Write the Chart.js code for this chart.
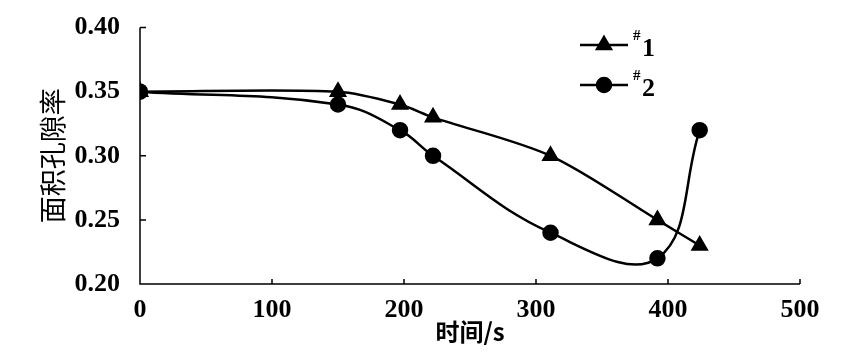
<!DOCTYPE html>
<html>
<head>
<meta charset="utf-8">
<script src="https://cdn.jsdelivr.net/npm/chart.js@4/dist/chart.umd.min.js"></script>
<style>
  body { margin: 0; background: #fff; }
  #wrap { width: 852px; height: 352px; }
</style>
</head>
<body>
<div id="wrap"><canvas id="poreChart" width="852" height="352"></canvas></div>
<script>
// data
const times = [0, 150, 197, 222, 311, 392, 424];
const sample1 = [0.35, 0.35, 0.34, 0.33, 0.30, 0.25, 0.23];
const sample2 = [0.35, 0.34, 0.32, 0.30, 0.24, 0.22, 0.32];
const seriesNames = ['1', '2'];
const xTicks = [0, 100, 200, 300, 400, 500];
const yTicks = [0.20, 0.25, 0.30, 0.35, 0.40];

const serif = "'Liberation Serif', 'Times New Roman', serif";
const cjk = "'Noto Sans CJK SC', serif";

function toPoints(xs, ys) {
	const pts = [];
	for (var i = 0; i < xs.length; i++) {
		pts.push({ x: xs[i], y: ys[i] });
	}
	return pts;
}

// inward tick marks + legend with line and marker
const decorations = {
	id: 'decorations',
	afterDraw(chart) {
		const ctx = chart.ctx;
		const xs = chart.scales.x, ys = chart.scales.y;
		const area = chart.chartArea;
		ctx.save();
		ctx.strokeStyle = '#000';
		ctx.lineWidth = 1.5;
		ctx.beginPath();
		ctx.moveTo(area.left, area.top);
		ctx.lineTo(area.left, area.bottom);
		ctx.lineTo(area.right, area.bottom);
		xTicks.forEach(function (v) {
			const px = xs.getPixelForValue(v);
			ctx.moveTo(px, area.bottom);
			ctx.lineTo(px, area.bottom - 5);
		});
		yTicks.forEach(function (v) {
			const py = ys.getPixelForValue(v);
			ctx.moveTo(area.left, py);
			ctx.lineTo(area.left + 6, py);
		});
		ctx.stroke();

		// legend
		chart.data.datasets.forEach(function (ds, i) {
			const y = 45 + i * 40;
			const x0 = 580, x1 = 628;
			ctx.lineWidth = 2.5;
			ctx.beginPath();
			ctx.moveTo(x0, y);
			ctx.lineTo(x1, y);
			ctx.stroke();
			Chart.helpers.drawPoint(ctx, {
				pointStyle: ds.pointStyle,
				radius: ds.pointRadius,
				borderWidth: 1
			}, (x0 + x1) / 2, y);
			ctx.fillStyle = '#000';
			ctx.textBaseline = 'alphabetic';
			ctx.textAlign = 'left';
			ctx.font = 'bold 15px ' + serif;
			ctx.fillText('#', 633, y - 5);
			ctx.font = 'bold 26px ' + serif;
			ctx.fillText(seriesNames[i], 642, y + 11);
		});
		ctx.restore();
	}
};

const ctx = document.getElementById('poreChart').getContext('2d');
const myChart = new Chart(ctx, {
	type: 'line',
	data: {
		datasets: [
			{
				label: '#1',
				data: toPoints(times, sample1),
				borderColor: '#000',
				backgroundColor: '#000',
				borderWidth: 2.5,
				pointStyle: 'triangle',
				pointRadius: 8,
				tension: 0.3,
				fill: false
			},
			{
				label: '#2',
				data: toPoints(times, sample2),
				borderColor: '#000',
				backgroundColor: '#000',
				borderWidth: 2.5,
				pointStyle: 'circle',
				pointRadius: 7,
				tension: 0.4,
				fill: false
			}
		]
	},
	options: {
		responsive: false,
		animation: false,
		layout: { padding: { top: 23, right: 52, left: 0, bottom: 0 } },
		plugins: {
			legend: { display: false },
			tooltip: { enabled: false }
		},
		scales: {
			x: {
				type: 'linear',
				min: 0,
				max: 500,
				afterBuildTicks: function (scale) {
					scale.ticks = xTicks.map(function (v) { return { value: v }; });
				},
				afterFit: function (scale) { scale.height = 68; },
				grid: { display: false },
				border: { display: false },
				ticks: {
					color: '#000',
					padding: 3,
					maxRotation: 0,
					font: { family: serif, size: 26, weight: 'bold' }
				},
				title: {
					display: true,
					text: '时间/s',
					color: '#000',
					padding: { top: 0, bottom: 6 },
					font: { family: cjk, size: 24, weight: 'bold' }
				}
			},
			y: {
				min: 0.2,
				max: 0.4,
				afterBuildTicks: function (scale) {
					scale.ticks = yTicks.map(function (v) { return { value: v }; });
				},
				afterFit: function (scale) { scale.width = 140; },
				grid: { display: false },
				border: { display: false },
				ticks: {
					color: '#000',
					padding: 12,
					font: { family: serif, size: 26, weight: 'bold' },
					callback: function (v) { return v.toFixed(2); }
				},
				title: {
					display: true,
					text: '面积孔隙率',
					color: '#000',
					padding: { top: 37, bottom: 0 },
					font: { family: cjk, size: 27, weight: 'normal' }
				}
			}
		}
	},
	plugins: [decorations]
});
</script>
</body>
</html>
